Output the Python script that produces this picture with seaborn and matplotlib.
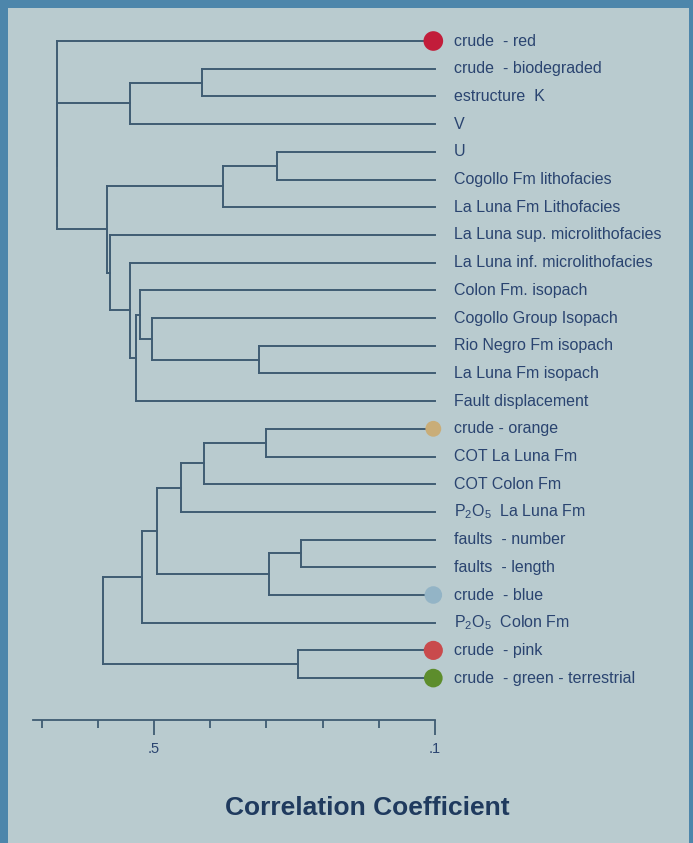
import matplotlib
matplotlib.use("Agg")
import matplotlib.pyplot as plt
from matplotlib.patches import Rectangle
import numpy as np
import pandas as pd
import seaborn as sns

# Upper group of variables (top to bottom) and its merge tree
upper_labels = [
    "crude  - red",
    "crude  - biodegraded",
    "estructure  K",
    "V",
    "U",
    "Cogollo Fm lithofacies",
    "La Luna Fm Lithofacies",
    "La Luna sup. microlithofacies",
    "La Luna inf. microlithofacies",
    "Colon Fm. isopach",
    "Cogollo Group Isopach",
    "Rio Negro Fm isopach",
    "La Luna Fm isopach",
    "Fault displacement",
]
upper_left = [1, 14, 4, 16, 11, 10, 9, 20, 8, 7, 17, 15, 0]
upper_right = [2, 3, 5, 6, 12, 18, 19, 13, 21, 22, 23, 24, 25]
upper_corr = [0.585, 0.457, 0.719, 0.623, 0.687, 0.496, 0.475, 0.468,
              0.457, 0.422, 0.416, 0.327, 0.327]

# Lower group of variables and its merge tree
lower_labels = [
    "crude - orange",
    "COT La Luna Fm",
    "COT Colon Fm",
    r"P$_2$O$_5$  La Luna Fm",
    "faults  - number",
    "faults  - length",
    "crude  - blue",
    r"P$_2$O$_5$  Colon Fm",
    "crude  - pink",
    "crude  - green - terrestrial",
]
lower_left = [0, 10, 11, 4, 13, 12, 15, 8, 16]
lower_right = [1, 2, 3, 5, 6, 14, 7, 9, 17]
lower_corr = [0.699, 0.589, 0.548, 0.762, 0.705, 0.505, 0.479, 0.756, 0.409]

# Crude-oil leaves marked with coloured dots
dot_labels = ["crude  - red", "crude - orange", "crude  - blue", "crude  - pink",
              "crude  - green - terrestrial"]
dot_colors = ["#c21d3a", "#c9ad78", "#93b4c6", "#c94a4c", "#5d8d2c"]
dot_sizes = [200, 130, 160, 190, 180]

tick_major = [0.5, 1.0]
tick_major_labels = [".5", ".1"]
tick_minor = [0.3, 0.4, 0.6, 0.7, 0.8, 0.9]

BORDER = "#4d86ab"
PANEL = "#b9cbcf"
LINE = "#3f5c73"
TEXT = "#2a4470"

sns.set_theme(style="white")
plt.rcParams["font.family"] = ["Liberation Sans", "DejaVu Sans"]
plt.rcParams["mathtext.fontset"] = "custom"
plt.rcParams["mathtext.rm"] = "Liberation Sans"
plt.rcParams["mathtext.it"] = "Liberation Sans:italic"
plt.rcParams["mathtext.bf"] = "Liberation Sans:bold"


def dendro_segments(n, left, right, corr, offset, start_id):
    """Return line segments (x, y, seg) for a dendrogram whose leaves sit at x=1."""
    pos = {i: offset + i for i in range(n)}
    hgt = {i: 1.0 for i in range(n)}
    rows = []
    sid = start_id
    for k, (a, b, c) in enumerate(zip(left, right, corr)):
        for ch in (a, b):
            rows += [(hgt[ch], pos[ch], sid), (c, pos[ch], sid)]
            sid += 1
        rows += [(c, pos[a], sid), (c, pos[b], sid)]
        sid += 1
        pos[n + k] = (pos[a] + pos[b]) / 2
        hgt[n + k] = c
    return rows, sid


W, H = 693, 843
fig = plt.figure(figsize=(W / 100, H / 100), dpi=100)
fig.patch.set_facecolor(BORDER)
fig.add_artist(Rectangle((8 / W, 0), (689 - 8) / W, (H - 8) / H,
                         transform=fig.transFigure, facecolor=PANEL,
                         edgecolor="none", zorder=0))

ax_left, ax_right, ax_top, ax_bottom = 33, 435, 20, 720
ax = fig.add_axes([ax_left / W, 1 - ax_bottom / H,
                   (ax_right - ax_left) / W, (ax_bottom - ax_top) / H])
ax.set_facecolor("none")

rows_u, nxt = dendro_segments(len(upper_labels), upper_left, upper_right,
                              upper_corr, 0, 0)
rows_l, _ = dendro_segments(len(lower_labels), lower_left, lower_right,
                            lower_corr, len(upper_labels), nxt)
segs = pd.DataFrame(rows_u + rows_l, columns=["corr", "leaf", "seg"])

sns.lineplot(data=segs, x="corr", y="leaf", units="seg", estimator=None,
             sort=False, color=LINE, lw=1.4, ax=ax, legend=False)
for line in ax.lines:
    line.set_clip_on(False)
    line.set_solid_capstyle("projecting")

labels = upper_labels + lower_labels
for i, lab in enumerate(labels):
    ax.text(1.034, i, lab, ha="left", va="center", fontsize=11.5,
            color=TEXT, clip_on=False)

dots = pd.DataFrame({
    "label": dot_labels,
    "corr": [0.997] * len(dot_labels),
    "leaf": [labels.index(d) for d in dot_labels],
})
sns.scatterplot(data=dots, x="corr", y="leaf", hue="label", size="label",
                palette=dict(zip(dot_labels, dot_colors)),
                sizes=dict(zip(dot_labels, dot_sizes)),
                edgecolor="none", legend=False, ax=ax, zorder=5, clip_on=False)

# x axis: correlation coefficient
px_per_unit = 562.0
ax.set_xlim(0.5 + (ax_left - 154) / px_per_unit, 1.0)
row_px = 27.7
ax.set_ylim((ax_bottom - 41) / row_px, (ax_top - 41) / row_px)
ax.set_xticks(tick_major)
ax.set_xticklabels(tick_major_labels)
ax.set_xticks(tick_minor, minor=True)
ax.set_yticks([])
ax.set_xlabel("")
ax.set_ylabel("")
for side in ("top", "left", "right"):
    ax.spines[side].set_visible(False)
ax.spines["bottom"].set_color(LINE)
ax.spines["bottom"].set_linewidth(1.3)
ax.tick_params(axis="x", which="major", direction="out", length=11, width=1.3,
               color=LINE, labelsize=10.5, labelcolor=TEXT, pad=5, bottom=True)
ax.tick_params(axis="x", which="minor", direction="out", length=6, width=1.3,
               color=LINE, bottom=True)

fig.text(367 / W, 1 - 808 / H, "Correlation Coefficient", ha="center",
         va="center", fontsize=19, fontweight="bold", color="#1f3a5e")

fig.savefig("out.png", dpi=100, facecolor=fig.get_facecolor())
